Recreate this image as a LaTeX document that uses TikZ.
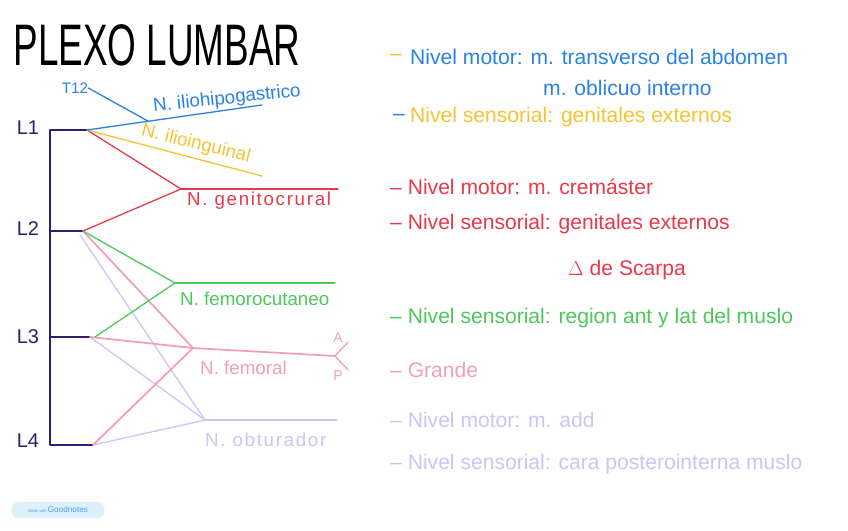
\documentclass[tikz,border=0pt]{standalone}
\usepackage{fontspec}
\setmainfont{Liberation Sans}
\usepackage{tikz}
\usetikzlibrary{positioning,calc}

\definecolor{navy}{RGB}{45,30,110}
\definecolor{nblue}{RGB}{40,130,230}
\definecolor{nyellow}{RGB}{245,195,50}
\definecolor{nred}{RGB}{232,57,74}
\definecolor{ngreen}{RGB}{76,200,90}
\definecolor{npink}{RGB}{240,160,180}
\definecolor{nlav}{RGB}{205,195,245}
\definecolor{badgebg}{RGB}{222,241,250}

\begin{document}
\begin{tikzpicture}[
    x=0.03cm, y=-0.03cm,
    spine/.style={draw=navy, line width=1.6pt, line join=round},
    nerve/.style={line width=1.1pt, line cap=round},
    level/.style={font=\fontsize{17}{17}\selectfont, text=navy, inner sep=0pt},
    nlabel/.style={font=\fontsize{16}{16}\selectfont, inner sep=0pt, anchor=west},
    widelabel/.style={nlabel, font=\fontsize{16}{16}\selectfont\addfontfeatures{LetterSpace=9}},
    note/.style={font=\fontsize{18}{18}\selectfont, inner sep=0pt, anchor=west},
    dashmark/.style={font=\fontsize{18}{18}\selectfont, inner sep=0pt}
]
\useasboundingbox (0,0) rectangle (848,530);

% Title
\node[inner sep=0pt] (title) at (157,45) {\scalebox{0.63}[1]{\fontsize{50}{50}\selectfont PLEXO LUMBAR}};

% Roots
\coordinate (L1r) at (87,130);
\coordinate (L2r) at (83,231);
\coordinate (L3r) at (90,337);
\coordinate (L4r) at (93,445);
\draw[spine] (L1r) -- (50,130) coordinate (top) -- (50,445) coordinate (bottom) -- (L4r);
\draw[spine] (50,231) coordinate (s2) -- (L2r);
\draw[spine] (50,337) coordinate (s3) -- (L3r);
\node[level] (l1) at (28,128) {L1};
\node[level] (l2) at (28,229) {L2};
\node[level] (l3) at (28,337) {L3};
\node[level] (l4) at (28,441) {L4};

% Junctions
\coordinate (ihg) at (262,105);
\coordinate (iig) at (262,176);
\coordinate (gc) at (181,189);
\coordinate (gcEnd) at (338,189);
\coordinate (fc) at (175,283);
\coordinate (fcEnd) at (335,283);
\coordinate (fe) at (193,348);
\coordinate (fork) at (335,356);
\coordinate (ant) at (348,342);
\coordinate (post) at (348,370);
\coordinate (ob) at (205,420);
\coordinate (obEnd) at (337,420);

% Obturador (behind)
\draw[nerve, nlav] (80,235) -- (ob);
\draw[nerve, nlav] (L3r) -- (ob);
\draw[nerve, nlav] (L4r) -- (ob);
\draw[nerve, nlav] (ob) -- (obEnd);

% Femoral
\draw[nerve, npink, line width=1.5pt] (L2r) -- (fe);
\draw[nerve, npink, line width=1.5pt] (L3r) -- (fe);
\draw[nerve, npink, line width=1.5pt] (L4r) -- (fe);
\draw[nerve, npink, line width=1.5pt] (fe) -- (fork);
\draw[nerve, npink] (fork) -- (ant);
\draw[nerve, npink] (fork) -- (post);

% Femorocutaneo
\draw[nerve, ngreen] (L2r) -- (fc);
\draw[nerve, ngreen] (95,337) -- (fc);
\draw[nerve, ngreen] (fc) -- (fcEnd);

% Genitocrural
\draw[nerve, nred] (L1r) -- (gc);
\draw[nerve, nred] (L2r) -- (gc);
\draw[nerve, nred] (gc) -- (gcEnd);

% Ilioinguinal, iliohipogastrico
\draw[nerve, nyellow] (L1r) -- (iig);
\draw[nerve, nblue] (L1r) -- (ihg);
\node[font=\fontsize{13}{13}\selectfont, text=nblue, inner sep=0pt] (t12) at (75,88) {T12};
\coordinate (t12j) at ($(L1r)!0.35!(ihg)$);
\draw[nerve, nblue] (t12.east) -- (t12j);

% Nerve labels
\node[nlabel, text=nblue, rotate=6, anchor=center] (ihgl) at (227,99) {N. iliohipogastrico};
\node[nlabel, text=nyellow, rotate=-14, anchor=center] (iigl) at (196,144) {N. ilioinguinal};
\node[widelabel, text=nred] (gcl) at (187,201) {N. genitocrural};
\node[nlabel, text=ngreen] (fcl) at (180,299) {N. femorocutaneo};
\node[nlabel, text=npink] (fel) at (200,368) {N. femoral};
\node[widelabel, text=nlav] (obl) at (205,440) {N. obturador};
\node[font=\fontsize{12}{12}\selectfont, text=npink, inner sep=0pt] (antl) at (338,338) {A};
\node[font=\fontsize{12}{12}\selectfont, text=npink, inner sep=0pt] (postl) at (338,376) {P};

% Notes: iliohipogastrico / ilioinguinal
\node[dashmark, text=nyellow] (d1) at (396,57) {–};
\node[note, text=nblue] (n1) at (410,57) {Nivel motor: m. transverso del abdomen};
\node[note, text=nblue] (n2) at (543,88) {m. oblicuo interno};
\node[dashmark, text=nblue] (d3) at (399,117) {–};
\node[note, text=nyellow] (n3) at (410,117) {Nivel sensorial: genitales externos};

% Notes: genitocrural
\node[note, text=nred] (n4) at (390,187) {– Nivel motor: m. cremáster};
\node[note, text=nred] (n5) at (390,224) {– Nivel sensorial: genitales externos};
\node[note, text=nred] (n6) at (568,270) {$\Delta$ de Scarpa};

% Notes: femorocutaneo, femoral, obturador
\node[note, text=ngreen] (n7) at (390,318) {– Nivel sensorial: region ant y lat del muslo};
\node[note, text=npink] (n8) at (390,370) {– Grande};
\node[note, text=nlav] (n9) at (390,420) {– Nivel motor: m. add};
\node[note, text=nlav] (n10) at (390,464) {– Nivel sensorial: cara posterointerna muslo};

% Badge
\node[fill=badgebg, rounded corners=6pt, minimum width=93*0.03cm, minimum height=16*0.03cm, inner sep=0pt, text=nblue!80] (badge) at (58,510)
  {{\fontsize{3.5}{4}\selectfont Made with }{\fontsize{7}{8}\selectfont Goodnotes}};
\end{tikzpicture}
\end{document}
